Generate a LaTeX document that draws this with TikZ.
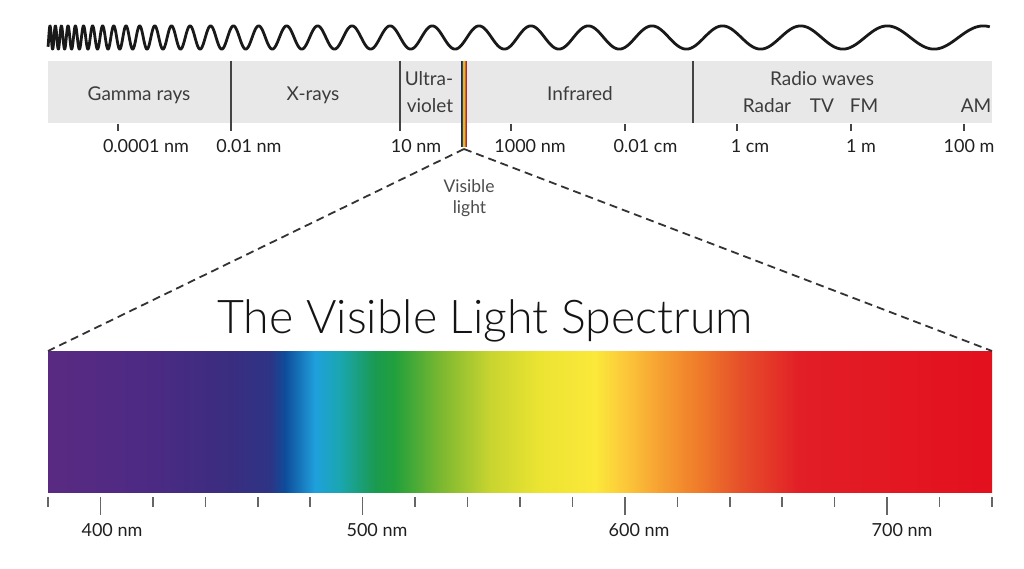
\documentclass[tikz,border=0pt]{standalone}
\usepackage{fontspec}
\setmainfont{Lato}
\newfontfamily\titlefont{Lato Light}
\definecolor{c0}{HTML}{5A2A82}
\definecolor{c1}{HTML}{4C2A84}
\definecolor{c2}{HTML}{3A2D80}
\definecolor{c3}{HTML}{2E3485}
\definecolor{c4}{HTML}{0E4C9A}
\definecolor{c5}{HTML}{1FA0DC}
\definecolor{c6}{HTML}{1AA6B0}
\definecolor{c7}{HTML}{1A9A50}
\definecolor{c8}{HTML}{22A03C}
\definecolor{c9}{HTML}{7AB830}
\definecolor{c10}{HTML}{C8D430}
\definecolor{c11}{HTML}{ECE432}
\definecolor{c12}{HTML}{FBE83A}
\definecolor{c13}{HTML}{FCC83A}
\definecolor{c14}{HTML}{F6A032}
\definecolor{c15}{HTML}{EF7A2A}
\definecolor{c16}{HTML}{E6502A}
\definecolor{c17}{HTML}{E21E26}
\definecolor{c18}{HTML}{E3101E}
\definecolor{bandgrey}{HTML}{E8E8E8}
\definecolor{linegrey}{HTML}{444444}
\definecolor{labgrey}{HTML}{3C3C3C}
\definecolor{s1}{HTML}{1E2A55}
\definecolor{s2}{HTML}{2A4A6A}
\definecolor{s3}{HTML}{E0B828}
\definecolor{s4}{HTML}{D06A20}
\definecolor{s5}{HTML}{B8282A}
\pgfdeclarehorizontalshading{visspec}{100bp}{color(0bp)=(c0); color(25bp)=(c0);
 color(30.40bp)=(c1); color(34.64bp)=(c2); color(36.76bp)=(c3); color(37.55bp)=(c4);
 color(39.14bp)=(c5); color(40.47bp)=(c6); color(42.32bp)=(c7); color(43.38bp)=(c8);
 color(45.76bp)=(c9); color(48.41bp)=(c10); color(51.06bp)=(c11); color(53.97bp)=(c12);
 color(55.56bp)=(c13); color(57.42bp)=(c14); color(59.53bp)=(c15); color(61.65bp)=(c16);
 color(64.83bp)=(c17); color(75bp)=(c18); color(100bp)=(c18)}
\begin{document}
\begin{tikzpicture}[x=1pt,y=-1pt,
  wave/.style={line width=2.8pt, black!90, line join=round},
  divider/.style={line width=1.6pt, linegrey},
  smalltick/.style={line width=1.5pt, linegrey},
  bartick/.style={line width=1.6pt, black!60},
  bandlab/.style={anchor=base, text=labgrey, font=\fontsize{19}{21}\selectfont, inner sep=0pt},
  wavelab/.style={anchor=base, text=black!88, font=\fontsize{18}{20}\selectfont, inner sep=0pt},
  vislab/.style={anchor=base, text=black!70, font=\fontsize{17.5}{19}\selectfont, inner sep=0pt},
  titlelab/.style={anchor=base, text=black!92, font=\titlefont\fontsize{46.5}{50}\selectfont, inner sep=0pt},
  dashconn/.style={line width=1.8pt, black!80, dash pattern=on 8pt off 5pt}]
\useasboundingbox (0,0) rectangle (1024,568);
% wave
\draw[wave] plot[domain=-0.397:29.07, samples=1500, variable=\t]
  ({50*exp(0.10272*\t)},{37.5-11.6*cos(360*\t)});
% band
\fill[bandgrey] (48,60.5) rectangle (992,123);
\draw[divider] (231,60.5) -- (231,131);
\draw[divider] (400,60.5) -- (400,131);
\draw[divider] (693,60.5) -- (693,123);
\foreach \x in {118,511,625,737,851,964} \draw[smalltick] (\x,123.5) -- (\x,131);
% band labels
\node[bandlab] (gamma) at (139,100) {Gamma rays};
\node[bandlab] (xray) at (313,100) {X-rays};
\node[bandlab] (uv1) at (429,85) {Ultra-};
\node[bandlab] (uv2) at (430,112) {violet};
\node[bandlab] (ir) at (580,100) {Infrared};
\node[bandlab] (radio) at (822,85) {Radio waves};
\node[bandlab] (radar) at (767,112) {Radar};
\node[bandlab] (tv) at (822,112) {TV};
\node[bandlab] (fm) at (864,112) {FM};
\node[bandlab] (am) at (976,112) {AM};
% wavelength labels
\node[wavelab] (w1) at (146,152) {0.0001 nm};
\node[wavelab] (w2) at (249,152) {0.01 nm};
\node[wavelab] (w3) at (416,152) {10 nm};
\node[wavelab] (w4) at (530,152) {1000 nm};
\node[wavelab] (w5) at (645.5,152) {0.01 cm};
\node[wavelab] (w6) at (750,152) {1 cm};
\node[wavelab] (w7) at (861,152) {1 m};
\node[wavelab] (w8) at (969,152) {100 m};
% visible strip
\fill[s1] (460.5,60.5) rectangle (461.9,147);
\fill[s2] (461.9,60.5) rectangle (463.2,147);
\fill[s3] (463.2,60.5) rectangle (464.5,147);
\fill[s4] (464.5,60.5) rectangle (465.8,147);
\fill[s5] (465.8,60.5) rectangle (467.2,147);
\coordinate (vistip) at (464,149);
\node[vislab] (vis1) at (469,192) {Visible};
\node[vislab] (vis2) at (469.5,213) {light};
% title
\node[titlelab] (title) at (485,333) {The Visible Light Spectrum};
% spectrum bar
\shade[shading=visspec] (48,351) rectangle (992,492);
\coordinate (barNW) at (48,351);
\coordinate (barNE) at (992,351);
\draw[dashconn] (vistip) -- (barNW);
\draw[dashconn] (vistip) -- (barNE);
% ticks below bar
\foreach \i in {0,2,3,4,5,7,8,9,10,12,13,14,15,17,18}
  \draw[bartick] ({48+\i*52.444},497) -- ({48+\i*52.444},507);
\foreach \i in {1,6,11,16}
  \draw[bartick] ({48+\i*52.444},497) -- ({48+\i*52.444},515);
\node[wavelab] (n400) at (112,536) {400 nm};
\node[wavelab] (n500) at (377,536) {500 nm};
\node[wavelab] (n600) at (639,536) {600 nm};
\node[wavelab] (n700) at (902,536) {700 nm};
\end{tikzpicture}
\end{document}
